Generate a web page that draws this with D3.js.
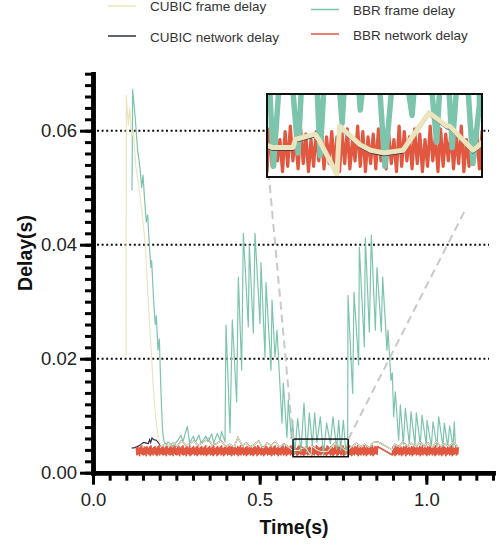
<!DOCTYPE html>
<html>
<head>
<meta charset="utf-8">
<script src="https://cdn.jsdelivr.net/npm/d3@7"></script>
<style>
  body { margin: 0; background: #fff; }
  svg { font-family: "Liberation Sans", Arial, sans-serif; }
</style>
</head>
<body>
<div id="chart"></div>
<script>
// ---- data (time in s, delay in s) ----
const seriesNames = ["CUBIC frame delay", "CUBIC network delay", "BBR frame delay", "BBR network delay"];
const seriesColors = ["#ebe5bd", "#2b2e4c", "#7dc4ad", "#e2573f"];

const yTicks = [0, 0.02, 0.04, 0.06];
const xTicks = [0, 0.5, 1.0];

// CUBIC frame delay while the start-up queue drains
const cubicFrameRise = [[0.099,0.0206],[0.100,0.0662],[0.106,0.0610],[0.110,0.0640],[0.117,0.0590],[0.121,0.0600],
  [0.128,0.0540],[0.133,0.0520],[0.138,0.0500],[0.144,0.0470],[0.150,0.0440],[0.157,0.0400],[0.163,0.0330],
  [0.170,0.0260],[0.176,0.0200],[0.183,0.0130],[0.190,0.0085],[0.197,0.0058]];

// CUBIC network delay at the start (visible below the frame delay)
const cubicNetRise = [[0.116,0.0043],[0.125,0.0044],[0.133,0.0046],[0.140,0.0048],[0.146,0.0051],[0.152,0.0053],
  [0.160,0.0052],[0.166,0.0051],[0.170,0.0058],[0.173,0.0053],[0.177,0.0061],[0.182,0.0058],[0.190,0.0057],[0.197,0.0052]];

// steady state: CUBIC frame and network delay coincide
const cubicSteady = [[0.205,0.0046],[0.215,0.0050],[0.228,0.0047],[0.240,0.0053],[0.252,0.0046],[0.265,0.0056],
  [0.277,0.0049],[0.290,0.0050],[0.302,0.0056],[0.315,0.0048],[0.330,0.0053],[0.345,0.0060],[0.357,0.0049],
  [0.370,0.0051],[0.385,0.0056],[0.398,0.0046],[0.410,0.0050],[0.423,0.0045],[0.435,0.0062],[0.447,0.0048],
  [0.460,0.0052],[0.472,0.0045],[0.485,0.0050],[0.497,0.0056],[0.510,0.0043],[0.522,0.0052],[0.535,0.0048],
  [0.547,0.0055],[0.560,0.0044],[0.572,0.0051],[0.585,0.0046],[0.595,0.0041],[0.604,0.0039],[0.620,0.0039],
  [0.622,0.0042],[0.637,0.0044],[0.640,0.0042],[0.654,0.0029],[0.656,0.0047],[0.672,0.0040],[0.680,0.0038],
  [0.690,0.0037],[0.705,0.0038],[0.725,0.0052],[0.739,0.0047],[0.741,0.0047],[0.759,0.0038],[0.762,0.0039],
  [0.775,0.0045],[0.790,0.0052],[0.803,0.0046],[0.815,0.0050],[0.828,0.0044],[0.840,0.0053],[0.855,0.0054],
  [0.898,0.0040],[0.905,0.0050],[0.918,0.0046],[0.930,0.0055],[0.943,0.0047],[0.955,0.0052],[0.968,0.0045],
  [0.980,0.0054],[0.993,0.0048],[1.005,0.0052],[1.018,0.0045],[1.030,0.0055],[1.042,0.0047],[1.055,0.0051],
  [1.068,0.0046],[1.080,0.0053],[1.093,0.0047]];

// BBR frame delay
const bbrFrame = [[0.117,0.0495],[0.119,0.0672],[0.127,0.0620],[0.134,0.0565],[0.138,0.0548],[0.141,0.0535],
  [0.146,0.0500],[0.150,0.0522],[0.155,0.0478],[0.160,0.0440],[0.164,0.0452],[0.170,0.0390],[0.174,0.0360],
  [0.176,0.0372],[0.182,0.0300],[0.187,0.0260],[0.190,0.0275],[0.195,0.0215],[0.199,0.0235],[0.204,0.0140],
  [0.209,0.0072],[0.213,0.0055],[0.219,0.0049],[0.225,0.0054],[0.240,0.0046],[0.255,0.0057],[0.264,0.0066],
  [0.270,0.0055],[0.283,0.0081],[0.290,0.0052],[0.301,0.0064],[0.307,0.0053],[0.318,0.0066],[0.324,0.0052],
  [0.339,0.0064],[0.345,0.0054],[0.356,0.0068],[0.362,0.0052],[0.373,0.0069],[0.381,0.0057],[0.386,0.0072],
  [0.396,0.0054],[0.399,0.0259],[0.411,0.0070],[0.418,0.0268],[0.431,0.0124],[0.436,0.0343],[0.446,0.0180],
  [0.451,0.0420],[0.466,0.0256],[0.469,0.0399],[0.481,0.0245],[0.486,0.0420],[0.501,0.0262],[0.504,0.0368],
  [0.516,0.0203],[0.519,0.0334],[0.534,0.0180],[0.537,0.0303],[0.546,0.0203],[0.552,0.0250],[0.567,0.0087],
  [0.571,0.0157],[0.582,0.0062],[0.586,0.0128],[0.595,0.0060],[0.599,0.0092],[0.605,0.0032],[0.614,0.0095],
  [0.624,0.0037],[0.633,0.0122],[0.641,0.0036],[0.649,0.0105],[0.658,0.0048],[0.665,0.0105],[0.672,0.0053],
  [0.682,0.0098],[0.691,0.0032],[0.701,0.0087],[0.712,0.0051],[0.720,0.0098],[0.731,0.0041],[0.737,0.0092],
  [0.743,0.0039],[0.751,0.0092],[0.759,0.0033],[0.764,0.0055],[0.765,0.0311],[0.779,0.0139],[0.783,0.0317],
  [0.797,0.0189],[0.799,0.0396],[0.814,0.0221],[0.817,0.0412],[0.829,0.0247],[0.835,0.0417],[0.847,0.0250],
  [0.852,0.0360],[0.865,0.0247],[0.869,0.0343],[0.882,0.0215],[0.885,0.0250],[0.894,0.0162],[0.898,0.0175],
  [0.902,0.0098],[0.907,0.0142],[0.917,0.0057],[0.922,0.0119],[0.931,0.0050],[0.937,0.0113],[0.949,0.0050],
  [0.954,0.0107],[0.966,0.0048],[0.970,0.0105],[0.982,0.0048],[0.987,0.0101],[1.000,0.0048],[1.002,0.0092],
  [1.015,0.0046],[1.020,0.0089],[1.032,0.0046],[1.037,0.0098],[1.050,0.0046],[1.054,0.0087],[1.064,0.0046],
  [1.070,0.0082],[1.080,0.0045],[1.084,0.0089],[1.087,0.0046]];

// BBR network delay, sampled every 2 ms, values in ms (two runs around a short gap)
const bbrNetStep = 0.002;
const bbrNetStartA = 0.130;
const bbrNetA = [
  4.4,3.1,4.6,3.3,4.3,3.0,4.5,3.4,4.7,3.2,4.2,3.1,4.5,3.3,4.4,3.0,4.6,3.4,4.3,3.2,
  4.5,3.0,4.7,3.3,4.2,3.1,4.4,3.4,4.6,3.2,4.3,3.0,4.5,3.3,4.7,3.1,4.2,3.4,4.4,3.2,
  4.6,3.1,4.3,3.3,4.5,3.0,4.7,3.4,4.2,3.2,4.4,3.1,4.6,3.3,4.3,3.0,4.5,3.4,4.7,3.2,
  4.2,3.1,4.4,3.3,4.6,3.0,4.3,3.4,4.5,3.2,4.7,3.1,4.2,3.3,4.4,3.0,4.6,3.4,4.3,3.2,
  4.7,3.0,4.2,3.2,4.4,3.4,4.6,3.1,4.3,3.3,4.5,3.0,4.7,3.2,4.2,3.4,4.4,3.1,4.6,3.3,
  4.3,3.1,4.5,3.3,4.7,3.0,4.2,3.2,4.4,3.4,4.6,3.1,4.3,3.3,4.5,3.0,4.7,3.2,4.2,3.4,
  4.4,3.0,4.6,3.2,4.3,3.4,4.5,3.1,4.7,3.3,4.2,3.0,4.4,3.2,4.6,3.4,4.3,3.1,4.5,3.3,
  4.6,3.2,4.4,3.0,4.7,3.3,4.3,3.1,4.5,3.4,4.2,3.2,4.6,3.0,4.4,3.3,4.7,3.1,4.3,3.4,
  4.5,3.1,4.2,3.3,4.4,3.0,4.6,3.2,4.3,3.4,4.7,3.1,4.5,3.3,4.2,3.0,4.4,3.2,4.6,3.4,
  4.3,3.0,4.7,3.2,4.5,3.4,4.2,3.1,4.4,3.3,4.6,3.0,4.3,3.2,4.7,3.4,4.5,3.1,4.2,3.3,
  4.4,3.2,4.6,3.0,4.3,3.3,4.5,3.1,4.7,3.4,4.2,3.2,4.4,3.0,4.6,3.3,4.3,3.1,4.5,3.4,
  4.7,3.1,4.3,3.3,4.6,3.0,4.4,3.2,4.2,3.4,4.5,3.1,4.7,3.3,4.3,3.0,4.6,3.2,4.4,3.4,
  4.2,3.0,4.5,3.2,4.7,3.4,4.3,3.1,4.6,3.3,4.4,3.0,4.2,3.2,4.5,3.4,4.7,3.1,4.3,3.3,
  4.5,3.2,4.3,3.0,4.4,3.3,4.6,3.1,4.2,3.4,4.7,3.2,4.5,3.0,4.3,3.3,4.4,3.1,4.6,3.4,
  4.6,3.1,4.4,3.3,4.2,3.0,4.7,3.2,4.5,3.4,4.3,3.1,4.6,3.3,4.4,3.0,4.2,3.2,4.7,3.4,
  4.3,3.0,4.6,3.2,4.4,3.4,4.5,3.1,4.3,3.3,4.7,3.0,4.2,3.2,4.6,3.4,4.4,3.1,4.5,3.3,
  4.7,3.2,4.2,3.0,4.5,3.3,4.3,3.1,4.6,3.4,4.4,3.2,4.7,3.0,4.2,3.3,4.5,3.1,4.3,3.4,
  4.4,3.1,4.7,3.3,4.3,3.0,4.6,3.2,4.2,3.4,4.5,3.1,4.4,3.3,4.7,3.0,4.3,3.2,4.6,3.4,
  4.5,3.2,4.6,4.5];
const bbrNetStartB = 0.898;
const bbrNetB = [
  3.1,4.5,3.3,4.3,3.0,4.6,3.2,4.4,3.4,4.7,3.1,4.2,3.3,4.5,3.0,4.3,3.2,4.6,3.4,4.4,
  3.0,4.7,3.2,4.2,3.4,4.5,3.1,4.3,3.3,4.6,3.0,4.4,3.2,4.7,3.4,4.2,3.1,4.5,3.3,4.3,
  3.2,4.6,3.0,4.4,3.3,4.7,3.1,4.2,3.4,4.5,3.2,4.3,3.0,4.6,3.3,4.4,3.1,4.7,3.4,4.2,
  3.1,4.3,3.3,4.5,3.0,4.7,3.2,4.2,3.4,4.4,3.1,4.6,3.3,4.3,3.0,4.5,3.2,4.7,3.4,4.4,
  3.0,4.2,3.2,4.6,3.4,4.3,3.1,4.5,3.3,4.7,3.0,4.4,3.2,4.2,3.4,4.6,3.1,4.3,3.3,4.5];

// zoomed window shown in the inset
const zoomT = [0.6, 0.766];
const zoomV = [0.0028, 0.0059];

// ---- build series ----
const cubicFrame = cubicFrameRise.concat(cubicSteady);
const cubicNet = cubicNetRise.concat(cubicSteady);
const bbrNet = bbrNetA.map((v, i) => [bbrNetStartA + i * bbrNetStep, v / 1000])
  .concat(bbrNetB.map((v, i) => [bbrNetStartB + i * bbrNetStep, v / 1000]));

const width = 498, height = 546;
const svg = d3.select("#chart").append("svg")
  .attr("width", width)
  .attr("height", height);

const x = d3.scaleLinear().domain([0, 1.2]).range([93, 493]);
const y = d3.scaleLinear().domain([0, 0.07]).range([472.7, 73.7]);

// dotted grid lines
svg.append("g")
  .selectAll("line")
  .data(yTicks.filter(d => d > 0))
  .enter()
  .append("line")
  .attr("x1", x(0) + 4)
  .attr("x2", 489)
  .attr("y1", d => y(d))
  .attr("y2", d => y(d))
  .attr("stroke", "#111")
  .attr("stroke-width", 2)
  .attr("stroke-dasharray", "2,2.6");

// draws the four series into a group with the given scales
function drawSeries(g, xs, ys, w) {
  const line = d3.line().x(d => xs(d[0])).y(d => ys(d[1]));
  g.append("path").datum(bbrNet).attr("d", line)
    .attr("fill", "none").attr("stroke", seriesColors[3]).attr("stroke-width", w.red)
    .attr("stroke-linejoin", "round");
  g.append("path").datum(bbrFrame).attr("d", line)
    .attr("fill", "none").attr("stroke", seriesColors[2]).attr("stroke-width", w.teal)
    .attr("stroke-linejoin", "round");
  g.append("path").datum(cubicNet).attr("d", line)
    .attr("fill", "none").attr("stroke", seriesColors[1]).attr("stroke-width", w.navy)
    .attr("transform", "translate(0," + w.navyShift + ")");
  g.append("path").datum(cubicFrame).attr("d", line)
    .attr("fill", "none").attr("stroke", seriesColors[0]).attr("stroke-width", w.yellow)
    .attr("stroke-linejoin", "round");
}

drawSeries(svg.append("g"), x, y, { red: 1.6, teal: 1.2, navy: 1.2, yellow: 1.2, navyShift: 0 });

// axes
const yAxisMinor = svg.append("g")
  .attr("transform", "translate(" + x(0) + ",0)")
  .call(d3.axisLeft(y).tickValues(d3.range(0, 0.0701, 0.002)).tickSize(8).tickSizeOuter(0).tickFormat(""));
const yAxis = svg.append("g")
  .attr("transform", "translate(" + x(0) + ",0)")
  .call(d3.axisLeft(y).tickValues(yTicks).tickSize(13).tickSizeOuter(0).tickPadding(3).tickFormat(d3.format(".2f")));
const xAxisMinor = svg.append("g")
  .attr("transform", "translate(0," + y(0) + ")")
  .call(d3.axisBottom(x).tickValues(d3.range(0, 1.2001, 0.05)).tickSize(8).tickSizeOuter(0).tickFormat(""));
const xAxis = svg.append("g")
  .attr("transform", "translate(0," + y(0) + ")")
  .call(d3.axisBottom(x).tickValues(xTicks).tickSize(12).tickSizeOuter(0).tickPadding(8).tickFormat(d3.format(".1f")));

[yAxisMinor, yAxis, xAxisMinor, xAxis].forEach(a => {
  a.select(".domain").attr("stroke", "#000").attr("stroke-width", 4.5).attr("stroke-linecap", "square");
  a.selectAll(".tick line").attr("stroke", "#000").attr("stroke-width", 3);
  a.selectAll("text").attr("font-size", 18.5).attr("fill", "#222").attr("font-family", "Liberation Sans, Arial, sans-serif");
});

// axis titles
svg.append("text")
  .attr("x", 294).attr("y", 534)
  .attr("text-anchor", "middle")
  .attr("font-size", 19.5).attr("font-weight", "bold").attr("fill", "#111")
  .text("Time(s)");
svg.append("text")
  .attr("transform", "translate(32,253) rotate(-90)")
  .attr("text-anchor", "middle")
  .attr("font-size", 19.5).attr("font-weight", "bold").attr("fill", "#111")
  .text("Delay(s)");

// small window + inset
const rx0 = x(zoomT[0]), rx1 = x(zoomT[1]), ry0 = y(zoomV[1]), ry1 = y(zoomV[0]);
const inset = { x0: 267, x1: 482, y0: 94, y1: 177 };

svg.append("rect")
  .attr("x", rx0).attr("y", ry0).attr("width", rx1 - rx0).attr("height", ry1 - ry0)
  .attr("fill", "none").attr("stroke", "#111").attr("stroke-width", 1.5);

const links = [
  [[rx0, ry0], [inset.x0 + 2, inset.y1], 1],
  [[rx1, ry0], [inset.x1, inset.y1], 0.87]
];
svg.append("g")
  .selectAll("line")
  .data(links)
  .enter()
  .append("line")
  .attr("x1", d => d[0][0]).attr("y1", d => d[0][1])
  .attr("x2", d => d[0][0] + (d[1][0] - d[0][0]) * d[2])
  .attr("y2", d => d[0][1] + (d[1][1] - d[0][1]) * d[2])
  .attr("stroke", "#c9c9c9").attr("stroke-width", 2).attr("stroke-dasharray", "8,5");

svg.append("rect")
  .attr("x", inset.x0).attr("y", inset.y0)
  .attr("width", inset.x1 - inset.x0).attr("height", inset.y1 - inset.y0)
  .attr("fill", "#fff");

svg.append("clipPath").attr("id", "insetClip")
  .append("rect")
  .attr("x", inset.x0 + 1).attr("y", inset.y0 + 1)
  .attr("width", inset.x1 - inset.x0 - 2).attr("height", inset.y1 - inset.y0 - 2);

const xi = d3.scaleLinear().domain(zoomT).range([inset.x0, inset.x1]);
const yi = d3.scaleLinear().domain(zoomV).range([inset.y1, inset.y0]);
drawSeries(svg.append("g").attr("clip-path", "url(#insetClip)"), xi, yi,
  { red: 3.2, teal: 5.5, navy: 1.5, yellow: 5, navyShift: 2.5 });

svg.append("rect")
  .attr("x", inset.x0).attr("y", inset.y0)
  .attr("width", inset.x1 - inset.x0).attr("height", inset.y1 - inset.y0)
  .attr("fill", "none").attr("stroke", "#111").attr("stroke-width", 2);

// legend
const legendPos = [
  { lx: 108, ly: 6, tx: 150, ty: 11 },
  { lx: 108, ly: 36, tx: 150, ty: 42 },
  { lx: 311, ly: 9.5, tx: 353, ty: 15 },
  { lx: 311, ly: 34, tx: 353, ty: 40 }
];
const legend = svg.append("g")
  .selectAll("g")
  .data(seriesNames)
  .enter()
  .append("g");
legend.append("line")
  .attr("x1", (d, i) => legendPos[i].lx).attr("x2", (d, i) => legendPos[i].lx + 28)
  .attr("y1", (d, i) => legendPos[i].ly).attr("y2", (d, i) => legendPos[i].ly)
  .attr("stroke", (d, i) => seriesColors[i]).attr("stroke-width", 1.5);
legend.append("text")
  .attr("x", (d, i) => legendPos[i].tx).attr("y", (d, i) => legendPos[i].ty)
  .attr("font-size", 13.5).attr("fill", "#333")
  .text(d => d);
</script>
</body>
</html>
